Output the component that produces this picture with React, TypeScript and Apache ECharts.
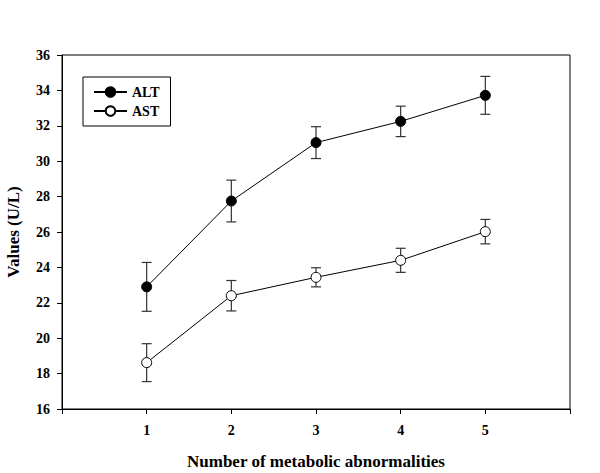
import React, { useEffect, useRef } from "react";
import * as echarts from "echarts";

const categories = [1, 2, 3, 4, 5];
const altMean = [22.9, 27.75, 31.05, 32.25, 33.72];
const altErr = [1.38, 1.18, 0.9, 0.86, 1.07];
const astMean = [18.62, 22.4, 23.44, 24.4, 26.02];
const astErr = [1.07, 0.86, 0.54, 0.68, 0.69];
const xTicks = [0, 1, 2, 3, 4, 5, 6];
const yTicks = [16, 18, 20, 22, 24, 26, 28, 30, 32, 34, 36];

const FONT = "'Liberation Serif', 'Times New Roman', serif";

function errData(mean: number[], err: number[]) {
  return categories.map((c, i) => [c, mean[i] - err[i], mean[i] + err[i]]);
}

const renderErr = (params: any, api: any) => {
  const x = api.value(0);
  const lo = api.coord([x, api.value(1)]);
  const hi = api.coord([x, api.value(2)]);
  const hw = 5;
  const style = { stroke: "#333", lineWidth: 1.2 };
  return {
    type: "group",
    children: [
      { type: "line", shape: { x1: lo[0], y1: lo[1], x2: hi[0], y2: hi[1] }, style },
      { type: "line", shape: { x1: lo[0] - hw, y1: lo[1], x2: lo[0] + hw, y2: lo[1] }, style },
      { type: "line", shape: { x1: hi[0] - hw, y1: hi[1], x2: hi[0] + hw, y2: hi[1] }, style },
    ],
  };
};

export default function App() {
  const ref = useRef<HTMLDivElement>(null);
  useEffect(() => {
    if (!ref.current) return;
    const chart = echarts.init(ref.current, null, { renderer: "svg" });
    chart.setOption({
      animation: false,
      backgroundColor: "#fff",
      grid: {
        left: 62,
        top: 55,
        right: 30,
        bottom: 64,
        containLabel: false,
        outerBoundsMode: "none",
        show: true,
        borderColor: "#000",
        borderWidth: 1,
        backgroundColor: "transparent",
      },
      legend: {
        orient: "vertical",
        left: 83,
        top: 77,
        borderColor: "#000",
        borderWidth: 1,
        borderRadius: 0,
        padding: [8, 11, 8, 10],
        itemGap: 5,
        itemWidth: 33,
        itemHeight: 12,
        data: ["ALT", "AST"],
        textStyle: { fontFamily: FONT, fontWeight: "bold", fontSize: 14, color: "#000" },
      },
      xAxis: {
        type: "value",
        min: xTicks[0],
        max: xTicks[xTicks.length - 1],
        interval: 1,
        name: "Number of metabolic abnormalities",
        nameLocation: "middle",
        nameGap: 44,
        nameTextStyle: { fontFamily: FONT, fontWeight: "bold", fontSize: 17, color: "#000" },
        axisLine: { lineStyle: { color: "#000", width: 1 } },
        axisTick: { show: true, length: 5, lineStyle: { color: "#000" } },
        splitLine: { show: false },
        axisLabel: {
          margin: 14,
          fontFamily: FONT,
          fontWeight: "bold",
          fontSize: 14,
          color: "#000",
          formatter: (v: number) => (categories.includes(v) ? String(v) : ""),
        },
      },
      yAxis: {
        type: "value",
        min: yTicks[0],
        max: yTicks[yTicks.length - 1],
        interval: 2,
        name: "Values (U/L)",
        nameLocation: "middle",
        nameGap: 40,
        nameTextStyle: { fontFamily: FONT, fontWeight: "bold", fontSize: 17, color: "#000" },
        axisLine: { show: true, lineStyle: { color: "#000", width: 1 } },
        axisTick: { show: true, length: 5, lineStyle: { color: "#000" } },
        splitLine: { show: false },
        axisLabel: { margin: 12, fontFamily: FONT, fontWeight: "bold", fontSize: 14, color: "#000" },
      },
      series: [
        {
          type: "custom",
          name: "ALT err",
          renderItem: renderErr,
          data: errData(altMean, altErr),
          encode: { x: 0, y: [1, 2] },
          z: 1,
          silent: true,
        },
        {
          type: "custom",
          name: "AST err",
          renderItem: renderErr,
          data: errData(astMean, astErr),
          encode: { x: 0, y: [1, 2] },
          z: 1,
          silent: true,
        },
        {
          type: "line",
          name: "ALT",
          data: categories.map((c, i) => [c, altMean[i]]),
          symbol: "circle",
          symbolSize: 10,
          lineStyle: { color: "#000", width: 1 },
          itemStyle: { color: "#000", borderColor: "#000", borderWidth: 1 },
          z: 3,
        },
        {
          type: "line",
          name: "AST",
          data: categories.map((c, i) => [c, astMean[i]]),
          symbol: "circle",
          symbolSize: 10,
          lineStyle: { color: "#000", width: 1 },
          itemStyle: { color: "#fff", borderColor: "#000", borderWidth: 1 },
          z: 3,
        },
      ],
    });
    return () => chart.dispose();
  }, []);
  return (
    <div
      ref={ref}
      style={{ position: "absolute", left: 0, top: 0, width: 600, height: 473 }}
    />
  );
}
